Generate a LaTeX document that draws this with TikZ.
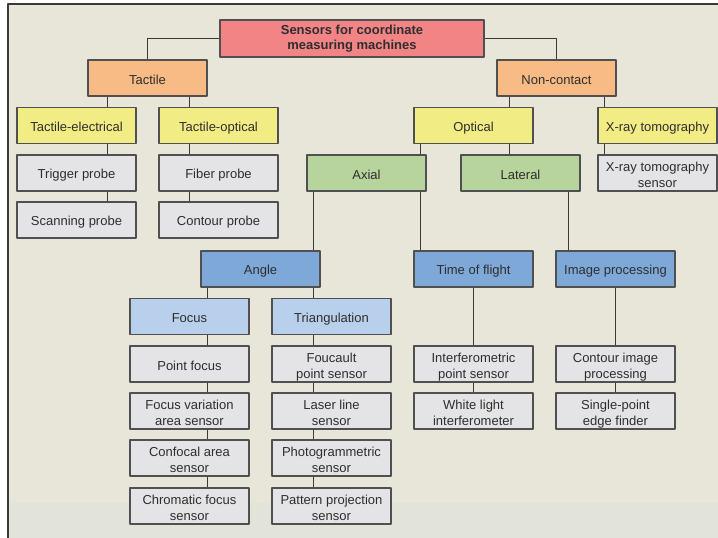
\documentclass[tikz,border=0pt]{standalone}
\usepackage{fontspec}
\setmainfont{Liberation Sans}
\definecolor{bgcol}{HTML}{E8E6D8}
\definecolor{bgstrip}{HTML}{E2E4D9}
\definecolor{framecol}{HTML}{3A3A3A}
\definecolor{boxline}{HTML}{505050}
\definecolor{linkcol}{HTML}{3A3A3A}
\definecolor{textcol}{HTML}{2E2E2E}
\definecolor{rootcol}{HTML}{F28486}
\definecolor{orangecol}{HTML}{F9BB85}
\definecolor{yellowcol}{HTML}{F2EC85}
\definecolor{greycol}{HTML}{E4E4E6}
\definecolor{greencol}{HTML}{B6D49C}
\definecolor{bluecol}{HTML}{7EA8D8}
\definecolor{lightblue}{HTML}{B8D0EC}
\tikzset{
  box/.style={draw=boxline, line width=1.1pt, rectangle, minimum width=119pt, minimum height=36pt,
    inner sep=2pt, align=center, text=textcol, font=\fontsize{13}{16}\selectfont,
    execute at begin node={\rule{0pt}{14pt}}, execute at end node={\rule[-2pt]{0pt}{2pt}}},
  twoline/.style={execute at begin node={}, execute at end node={}, text height=30.3pt, text depth=1.7pt},
  rootbox/.style={box, fill=rootcol, minimum width=264pt, minimum height=37pt,
    font=\bfseries\fontsize{13}{15.5}\selectfont},
  groupbox/.style={box, fill=orangecol},
  kindbox/.style={box, fill=yellowcol},
  sensorbox/.style={box, fill=greycol},
  dirbox/.style={box, fill=greencol},
  methodbox/.style={box, fill=bluecol},
  subbox/.style={box, fill=lightblue},
  link/.style={draw=linkcol, line width=1pt}
}
\begin{document}
\begin{tikzpicture}[x=1pt, y=-1pt, line join=round]
  \useasboundingbox (0,0) rectangle (718,538);
  % nen va khung
  \fill[bgcol] (8,4) rectangle (718,538);
  \fill[bgstrip] (8,503) rectangle (718,538);
  \draw[framecol, line width=1.2pt] (718,4) -- (8,4) -- (8,538);

  \node[rootbox] (root) at (352,38.5) {Sensors for coordinate\\measuring machines};
  \node[groupbox] (tact) at (147.5,78) {Tactile};
  \node[groupbox] (nonc) at (556.5,78) {Non-contact};

  \node[kindbox] (tel) at (76.5,125.5) {Tactile-electrical};
  \node[kindbox] (top) at (218.5,125.5) {Tactile-optical};
  \node[kindbox] (opt) at (473.5,125.5) {Optical};
  \node[kindbox] (xray) at (657.5,125.5) {X-ray tomography};

  \node[sensorbox] (trig) at (76.5,173) {Trigger probe};
  \node[sensorbox] (scan) at (76.5,220) {Scanning probe};
  \node[sensorbox] (fib) at (218.5,173) {Fiber probe};
  \node[sensorbox] (cont) at (218.5,220) {Contour probe};
  \node[dirbox] (axial) at (366.5,173) {Axial};
  \node[dirbox] (lat) at (520.5,173) {Lateral};
  \node[sensorbox, twoline] (xsens) at (657.5,173) {X-ray tomography\\sensor};

  \node[methodbox] (angle) at (260.5,269) {Angle};
  \node[methodbox] (tof) at (473.5,269) {Time of flight};
  \node[methodbox] (imgp) at (615.5,269) {Image processing};

  \node[subbox] (focus) at (189.5,316.5) {Focus};
  \node[subbox] (tri) at (331.5,316.5) {Triangulation};

  % cot cam bien
  \node[sensorbox] (pf) at (189.5,364) {Point focus};
  \node[sensorbox, twoline] (fv) at (189.5,411) {Focus variation\\area sensor};
  \node[sensorbox, twoline] (conf) at (189.5,458) {Confocal area\\sensor};
  \node[sensorbox, twoline] (chrom) at (189.5,506) {Chromatic focus\\sensor};
  \node[sensorbox, twoline] (fouc) at (331.5,364) {Foucault\\point sensor};
  \node[sensorbox, twoline] (laser) at (331.5,411) {Laser line\\sensor};
  \node[sensorbox, twoline] (photo) at (331.5,458) {Photogrammetric\\sensor};
  \node[sensorbox, twoline] (patt) at (331.5,506) {Pattern projection\\sensor};
  \node[sensorbox, twoline] (interf) at (473.5,364) {Interferometric\\point sensor};
  \node[sensorbox, twoline] (white) at (473.5,411) {White light\\interferometer};
  \node[sensorbox, twoline] (cip) at (615.5,364) {Contour image\\processing};
  \node[sensorbox, twoline] (spef) at (615.5,411) {Single-point\\edge finder};

  % duong noi
  \draw[link] (root.west) -| (tact.north);
  \draw[link] (root.east) -| (nonc.north);
  \foreach \a/\b/\x in {tact/tel/107, tel/trig/107, trig/scan/107,
      tact/top/189, top/fib/189, fib/cont/189,
      nonc/opt/509, nonc/xray/604, xray/xsens/604,
      opt/axial/420, opt/lat/509, axial/angle/313, axial/tof/420, lat/imgp/568,
      angle/focus/207, focus/pf/207, pf/fv/207, fv/conf/207, conf/chrom/207,
      angle/tri/313, tri/fouc/313, fouc/laser/313, laser/photo/313, photo/patt/313,
      tof/interf/473.5, interf/white/473.5, imgp/cip/615.5, cip/spef/615.5}
    \draw[link] (\a.south -| \x,0) -- (\b.north -| \x,0);
\end{tikzpicture}
\end{document}
